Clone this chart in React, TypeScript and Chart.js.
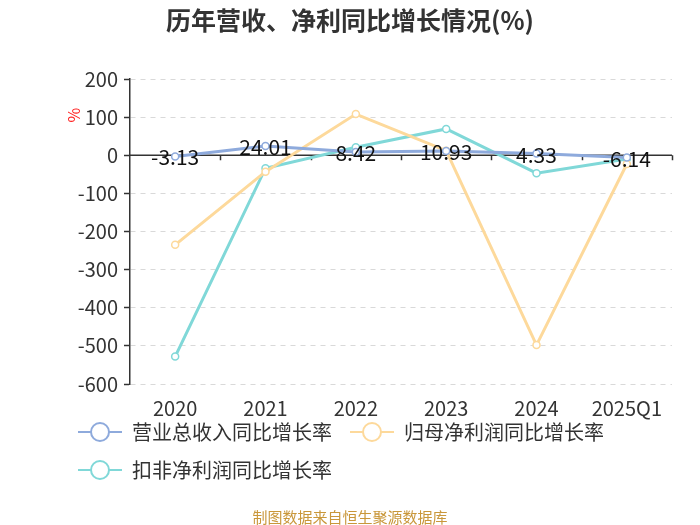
import React, { useEffect, useRef } from "react";
import { Chart, registerables } from "chart.js";

Chart.register(...registerables);

const categories = ["2020", "2021", "2022", "2023", "2024", "2025Q1"];
const revenueGrowth = [-3.13, 24.01, 8.42, 10.93, 4.33, -6.14];
const netProfitGrowth = [-235, -43, 108, 12, -498, -23];
const deductedNetProfitGrowth = [-528, -34, 21, 69, -47, -10];
const seriesNames = ["营业总收入同比增长率", "归母净利润同比增长率", "扣非净利润同比增长率"];
const seriesColors = ["#8eaadc", "#fdd99b", "#80d8d8"];
const yMin = -600;
const yMax = 200;
const yStep = 100;
const titleText = "历年营收、净利同比增长情况(%)";
const footerText = "制图数据来自恒生聚源数据库";
const yUnit = "%";

const FONT = '"Noto Sans CJK SC", "Noto Sans", sans-serif';

function makeIcon(color: string) {
  const c = document.createElement("canvas");
  c.width = 44;
  c.height = 22;
  const g = c.getContext("2d")!;
  g.strokeStyle = color;
  g.lineWidth = 2;
  g.beginPath();
  g.moveTo(0, 11);
  g.lineTo(44, 11);
  g.stroke();
  g.beginPath();
  g.arc(22, 11, 9, 0, Math.PI * 2);
  g.fillStyle = "#fff";
  g.fill();
  g.stroke();
  return c;
}

const customPlugin = {
  id: "customDecor",
  beforeDatasetsDraw(chart: any) {
    const { ctx, chartArea, scales } = chart;
    const x = scales.x;
    const y = scales.y;
    const y0 = y.getPixelForValue(0);
    ctx.save();
    ctx.strokeStyle = "#333";
    ctx.lineWidth = 1.5;
    ctx.beginPath();
    ctx.moveTo(chartArea.left, y0);
    ctx.lineTo(chartArea.right, y0);
    for (let i = 1; i <= categories.length; i++) {
      const px = Math.round(x.getPixelForValue(i - 0.5)) + 0.5;
      ctx.moveTo(px, y0);
      ctx.lineTo(px, y0 + 5);
    }
    ctx.stroke();
    // category labels along the bottom
    ctx.font = `20px ${FONT}`;
    ctx.fillStyle = "#333";
    ctx.textAlign = "center";
    ctx.textBaseline = "middle";
    categories.forEach((c, i) => {
      ctx.fillText(c, x.getPixelForValue(i), chartArea.bottom + 24);
    });
    ctx.restore();
  },
  afterDatasetsDraw(chart: any) {
    const { ctx } = chart;
    const meta = chart.getDatasetMeta(0);
    ctx.save();
    ctx.font = `21px ${FONT}`;
    ctx.fillStyle = "#111";
    ctx.textAlign = "center";
    ctx.textBaseline = "middle";
    meta.data.forEach((el: any, i: number) => {
      ctx.fillText(revenueGrowth[i].toFixed(2), el.x, el.y + 1);
    });
    ctx.restore();
  },
  afterDraw(chart: any) {
    const { ctx, width, scales } = chart;
    const y = scales.y;
    ctx.save();
    ctx.textAlign = "center";
    ctx.textBaseline = "middle";
    ctx.font = `bold 25px ${FONT}`;
    ctx.fillStyle = "#333";
    ctx.fillText(titleText, width / 2, 20);
    ctx.font = `15px ${FONT}`;
    ctx.fillStyle = "#c9973a";
    ctx.fillText(footerText, width / 2, 517);
    ctx.translate(y.left + 14, y.getPixelForValue(105));
    ctx.rotate(-Math.PI / 2);
    ctx.font = `16px ${FONT}`;
    ctx.fillStyle = "#ff2020";
    ctx.fillText(yUnit, 0, 0);
    ctx.restore();
  },
};

export default function App() {
  const ref = useRef<HTMLCanvasElement | null>(null);

  useEffect(() => {
    document.body.style.margin = "0";
    const canvas = ref.current;
    if (!canvas) return;
    const icons = seriesColors.map(makeIcon);
    const values = [revenueGrowth, netProfitGrowth, deductedNetProfitGrowth];
    const chart = new Chart(canvas, {
      type: "line",
      data: {
        labels: categories,
        datasets: values.map((v, i) => ({
          label: seriesNames[i],
          data: v,
          borderColor: seriesColors[i],
          backgroundColor: "#fff",
          pointBackgroundColor: "#fff",
          pointBorderColor: seriesColors[i],
          borderWidth: 3,
          pointRadius: 3.5,
          pointBorderWidth: 1.5,
          tension: 0,
          fill: false,
        })),
      },
      options: {
        responsive: false,
        animation: false,
        devicePixelRatio: 1,
        layout: { padding: { top: 79, left: 60, right: 28, bottom: 35 } },
        plugins: {
          title: { display: false },
          tooltip: { enabled: false },
          legend: {
            position: "bottom",
            align: "start",
            labels: {
              usePointStyle: true,
              pointStyleWidth: 44,
              boxHeight: 20,
              padding: 18,
              color: "#333",
              font: { size: 20, family: FONT },
              generateLabels: (c: any) => {
                const items = Chart.defaults.plugins.legend.labels.generateLabels(c);
                return items.map((it: any, i: number) => ({ ...it, pointStyle: icons[i] }));
              },
            },
          },
        },
        scales: {
          x: {
            type: "category",
            offset: true,
            grid: { display: false },
            border: { display: false },
            ticks: { display: false },
            afterFit: (s: any) => {
              s.height = 20;
            },
          },
          y: {
            min: yMin,
            max: yMax,
            ticks: {
              stepSize: yStep,
              color: "#333",
              font: { size: 20, family: FONT },
              padding: 6,
            },
            grid: {
              color: "#d9d9d9",
              lineWidth: 1,
              tickColor: "#333",
              tickLength: 6,
              tickWidth: 1.5,
            },
            border: { display: true, color: "#333", width: 1.5, dash: [5, 5] },
            afterFit: (s: any) => {
              s.width = 70;
            },
          },
        },
      },
      plugins: [customPlugin],
    } as any);
    return () => chart.destroy();
  }, []);

  return (
    <div style={{ width: 700, height: 525 }}>
      <canvas ref={ref} width={700} height={525} style={{ display: "block" }} />
    </div>
  );
}
